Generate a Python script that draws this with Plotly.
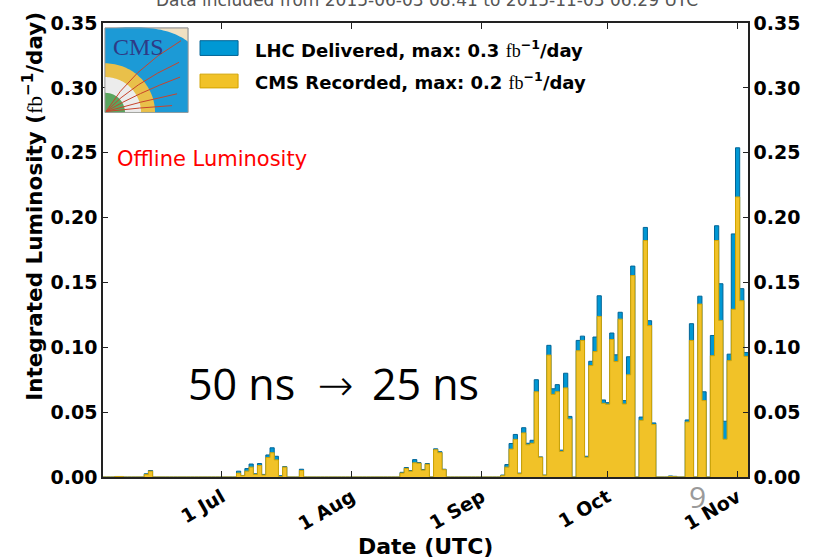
import math
import pandas as pd
import plotly.graph_objects as go

# ---------------- data ----------------
dates = [
    "2015-06-06", "2015-06-07", "2015-06-13", "2015-06-14",
    "2015-07-05", "2015-07-06", "2015-07-07", "2015-07-08", "2015-07-09", "2015-07-10",
    "2015-07-11", "2015-07-12", "2015-07-13", "2015-07-14", "2015-07-15", "2015-07-16",
    "2015-07-20",
    "2015-08-13", "2015-08-14", "2015-08-15", "2015-08-16", "2015-08-17", "2015-08-18",
    "2015-08-19", "2015-08-21", "2015-08-22", "2015-08-23",
    "2015-09-06", "2015-09-07", "2015-09-08", "2015-09-09", "2015-09-10", "2015-09-11",
    "2015-09-12", "2015-09-13", "2015-09-14", "2015-09-15", "2015-09-16", "2015-09-17",
    "2015-09-18", "2015-09-19", "2015-09-20", "2015-09-21", "2015-09-22", "2015-09-24",
    "2015-09-25", "2015-09-26", "2015-09-27", "2015-09-28", "2015-09-29", "2015-09-30",
    "2015-10-01", "2015-10-02", "2015-10-03", "2015-10-04", "2015-10-05", "2015-10-06",
    "2015-10-07", "2015-10-09", "2015-10-10", "2015-10-11", "2015-10-12", "2015-10-16",
    "2015-10-17", "2015-10-20", "2015-10-21", "2015-10-23", "2015-10-24", "2015-10-26",
    "2015-10-27", "2015-10-28", "2015-10-29", "2015-10-30", "2015-10-31", "2015-11-01",
    "2015-11-02", "2015-11-03",
]
delivered = [
    0.0004, 0.0004, 0.0025, 0.0050,
    0.0045, 0.0012, 0.0065, 0.0100, 0.0025, 0.0104,
    0.0020, 0.0170, 0.0225, 0.0160, 0.0010, 0.0080,
    0.0060,
    0.0036, 0.0073, 0.0050, 0.0134, 0.0111, 0.0058,
    0.0104, 0.0217, 0.0195, 0.0060,
    0.0015, 0.0096, 0.0258, 0.0328, 0.0030, 0.0380,
    0.0260, 0.0283, 0.0750, 0.0155, 0.0015, 0.1015,
    0.0680, 0.0712, 0.0207, 0.0800, 0.0467, 0.1053,
    0.1086, 0.0160, 0.0892, 0.1079, 0.1397, 0.0594,
    0.0573, 0.1110, 0.0942, 0.1270, 0.0589, 0.0927,
    0.1626, 0.0462, 0.1924, 0.1205, 0.0417, 0.0008,
    0.0005, 0.0440, 0.1182, 0.1394, 0.0657, 0.1091,
    0.1937, 0.1490, 0.0430, 0.0947, 0.1874, 0.2538,
    0.1452, 0.0960,
]
recorded = [
    0.0003, 0.0003, 0.0020, 0.0045,
    0.0030, 0.0010, 0.0045, 0.0076, 0.0020, 0.0089,
    0.0015, 0.0150, 0.0187, 0.0132, 0.0003, 0.0076,
    0.0050,
    0.0030, 0.0066, 0.0045, 0.0109, 0.0106, 0.0053,
    0.0098, 0.0210, 0.0187, 0.0056,
    0.0010, 0.0076, 0.0215, 0.0290, 0.0025, 0.0340,
    0.0248, 0.0260, 0.0657, 0.0152, 0.0013, 0.0940,
    0.0637, 0.0657, 0.0197, 0.0687, 0.0447, 0.0973,
    0.1053, 0.0152, 0.0859, 0.0967, 0.1238, 0.0568,
    0.0561, 0.1060, 0.0890, 0.1217, 0.0563, 0.0788,
    0.1553, 0.0437, 0.1823, 0.1167, 0.0404, 0.0003,
    0.0002, 0.0424, 0.1053, 0.1333, 0.0589, 0.0935,
    0.1823, 0.1207, 0.0291, 0.0897, 0.1293, 0.2159,
    0.1359, 0.0930,
]
first_day = "2015-06-03"
last_day = "2015-11-03"
tick_dates = ["2015-07-01", "2015-08-01", "2015-09-01", "2015-10-01", "2015-11-01"]
tick_labels = ["1 Jul", "1 Aug", "1 Sep", "1 Oct", "1 Nov"]
y_ticks = [0.00, 0.05, 0.10, 0.15, 0.20, 0.25, 0.30, 0.35]

# ---------------- build daily step series ----------------
days = pd.date_range(first_day, last_day, freq="D")
s_del = pd.Series(delivered, index=pd.to_datetime(dates)).reindex(days, fill_value=0.0)
s_rec = pd.Series(recorded, index=pd.to_datetime(dates)).reindex(days, fill_value=0.0)
half = pd.Timedelta(hours=12)
edges = list(days - half) + [days[-1] + half]
y_del = list(s_del.values) + [s_del.values[-1]]
y_rec = list(s_rec.values) + [s_rec.values[-1]]

BLUE, BLUE_EDGE = "#0098d4", "#006496"
GOLD, GOLD_EDGE = "#f1c228", "#d3a400"

fig = go.Figure()
fig.add_trace(go.Scatter(x=edges, y=y_del, mode="lines", line=dict(shape="hv", color=BLUE_EDGE, width=1),
                         fill="tozeroy", fillcolor=BLUE, showlegend=False, hoverinfo="skip"))
fig.add_trace(go.Scatter(x=edges, y=y_rec, mode="lines", line=dict(shape="hv", color=GOLD_EDGE, width=1),
                         fill="tozeroy", fillcolor=GOLD, showlegend=False, hoverinfo="skip"))
# invisible trace so that the right-hand axis is drawn
fig.add_trace(go.Scatter(x=[days[0]], y=[0], yaxis="y2", mode="markers", marker=dict(opacity=0),
                         showlegend=False, hoverinfo="skip"))

# ---------------- geometry helpers (pixel -> paper) ----------------
L, R, T, B = 103.0, 747.7, 15.0, 476.7
W, H = 815, 558


def px(x):
    return (x - L) / (R - L)


def py(y):
    return (B - y) / (B - T)


def poly(points):
    return "M " + " L ".join(f"{px(a):.5f},{py(b):.5f}" for a, b in points) + " Z"


def sector(cx, cy, r, n=40):
    pts = [(cx, cy)]
    for i in range(n + 1):
        t = (math.pi / 2) * i / n
        pts.append((cx + r * math.cos(t), cy - r * math.sin(t)))
    return pts


shapes = []
# ---- CMS logo (approximation) ----
lx0, ly0, lx1, ly1 = 105, 20, 188, 106
shapes.append(dict(type="rect", xref="paper", yref="paper", x0=px(lx0), x1=px(lx1), y0=py(ly1), y1=py(ly0),
                   fillcolor="#f0e0c2", line=dict(color="#9a9a9a", width=0.8), layer="above"))
blue_pts = [(lx0, ly1), (lx0, ly0), (116, ly0)]
for i in range(1, 31):
    t = i / 30
    bx = (1 - t) ** 2 * 116 + 2 * (1 - t) * t * 165 + t ** 2 * lx1
    by = (1 - t) ** 2 * ly0 + 2 * (1 - t) * t * 16 + t ** 2 * 34
    blue_pts.append((bx, by))
blue_pts.append((lx1, ly1))
shapes.append(dict(type="path", xref="paper", yref="paper", path=poly(blue_pts),
                   fillcolor="#1c9ad6", line=dict(width=0), layer="above"))
shapes.append(dict(type="path", xref="paper", yref="paper", path=poly(sector(lx0, ly1, 50)),
                   fillcolor="#e9c04a", line=dict(width=0), layer="above"))
shapes.append(dict(type="path", xref="paper", yref="paper", path=poly(sector(lx0, ly1, 36)),
                   fillcolor="#ececec", line=dict(width=0), layer="above"))
shapes.append(dict(type="path", xref="paper", yref="paper", path=poly(sector(lx0, ly1, 20)),
                   fillcolor="#5aa55e", line=dict(width=0), layer="above"))
for (ex, ey, cx, cy) in [(181, 33, 132, 62), (179, 55, 134, 76), (180, 70, 138, 86), (177, 87, 140, 95),
                         (172, 99, 140, 101)]:
    shapes.append(dict(type="path", xref="paper", yref="paper",
                       path=f"M {px(106):.5f},{py(105):.5f} Q {px(cx):.5f},{py(cy):.5f} {px(ex):.5f},{py(ey):.5f}",
                       line=dict(color="#c8442c", width=1), layer="above"))
shapes.append(dict(type="rect", xref="paper", yref="paper", x0=px(lx0), x1=px(lx1), y0=py(ly1), y1=py(ly0),
                   fillcolor="rgba(0,0,0,0)", line=dict(color="#9a9a9a", width=0.8), layer="above"))

# ---- manual legend swatches ----
shapes.append(dict(type="rect", xref="paper", yref="paper", x0=px(200), x1=px(238), y0=py(48), y1=py(33),
                   fillcolor=BLUE, line=dict(color=BLUE_EDGE, width=1), layer="above"))
shapes.append(dict(type="rect", xref="paper", yref="paper", x0=px(200), x1=px(238), y0=py(81), y1=py(67),
                   fillcolor=GOLD, line=dict(color=GOLD_EDGE, width=1), layer="above"))

FB = "<span style='font-family:Liberation Serif;font-weight:normal'>fb</span><sup>−1</sup>"
ARROW = "<span style='font-family:DejaVu Sans;font-weight:300'>→</span>"
annotations = [
    dict(text="CMS", x=px(138), y=py(39), xref="paper", yref="paper", showarrow=False,
         xanchor="center", yanchor="middle",
         font=dict(family="Liberation Serif", size=24, color="#2e3a86")),
    dict(text=f"LHC Delivered, max: 0.3 {FB}/day", x=px(253), y=py(41), xref="paper", yref="paper",
         xanchor="left", yanchor="middle", showarrow=False,
         font=dict(family="DejaVu Sans", size=18, color="black", weight="bold")),
    dict(text=f"CMS Recorded, max: 0.2 {FB}/day", x=px(253), y=py(74), xref="paper", yref="paper",
         xanchor="left", yanchor="middle", showarrow=False,
         font=dict(family="DejaVu Sans", size=18, color="black", weight="bold")),
    dict(text="Offline Luminosity", x=px(115), y=py(153), xref="paper", yref="paper",
         xanchor="left", yanchor="middle", showarrow=False,
         font=dict(family="DejaVu Sans", size=21, color="#ff0000")),
    dict(text=f"50 ns&nbsp; {ARROW}\u2009 25 ns", x=px(333), y=py(382), xref="paper", yref="paper",
         xanchor="center", yanchor="middle", showarrow=False,
         font=dict(family="Open Sans", size=43, color="black")),
    dict(text="9", x=px(697), y=py(497), xref="paper", yref="paper",
         xanchor="center", yanchor="middle", showarrow=False,
         font=dict(family="Open Sans", size=30, color="#9a9a9a")),
    dict(text="Data included from 2015-06-03 08:41 to 2015-11-03 06:29 UTC", x=px(427), y=py(-8),
         xref="paper", yref="paper", xanchor="center", yanchor="middle", showarrow=False,
         font=dict(family="DejaVu Sans", size=17, color="#555555")),
    dict(text="Date (UTC)", x=px(425), y=py(547), xref="paper", yref="paper",
         xanchor="center", yanchor="middle", showarrow=False,
         font=dict(family="DejaVu Sans", size=22, color="black", weight="bold")),
    dict(text=f"Integrated Luminosity ({FB}/day)", x=px(33), y=py(201), xref="paper", yref="paper",
         xanchor="center", yanchor="middle", textangle=-90, showarrow=False,
         font=dict(family="DejaVu Sans", size=21.5, color="black", weight="bold")),
]

tickfont = dict(family="DejaVu Sans", size=19, color="black", weight="bold")
x_start = pd.Timestamp("2015-06-02 16:00")
x_end = pd.Timestamp("2015-11-03 11:30")

fig.update_layout(
    width=W, height=H,
    margin=dict(l=L, r=W - R, t=T, b=H - B, pad=0),
    paper_bgcolor="white", plot_bgcolor="white",
    showlegend=False,
    shapes=shapes, annotations=annotations,
    xaxis=dict(type="date", range=[x_start, x_end], tickvals=pd.to_datetime(tick_dates), ticktext=tick_labels,
               tickangle=-30, ticks="inside", ticklen=6, tickwidth=1, tickcolor="#222",
               showline=True, linecolor="#222", linewidth=1.5, mirror="ticks",
               showgrid=False, zeroline=False, tickfont=tickfont),
    yaxis=dict(range=[0, 0.35], tickvals=y_ticks, tickformat=".2f", ticks="inside", ticklen=5,
               tickwidth=1, tickcolor="#222", showline=True, linecolor="#222", linewidth=1.5,
               showgrid=False, zeroline=False, tickfont=tickfont),
    yaxis2=dict(range=[0, 0.35], tickvals=y_ticks, tickformat=".2f", overlaying="y", side="right",
                ticks="inside", ticklen=5, tickwidth=1, tickcolor="#222", showline=True,
                linecolor="#222", linewidth=1.5, showgrid=False, zeroline=False, tickfont=tickfont),
)

fig.write_html("out.html")
